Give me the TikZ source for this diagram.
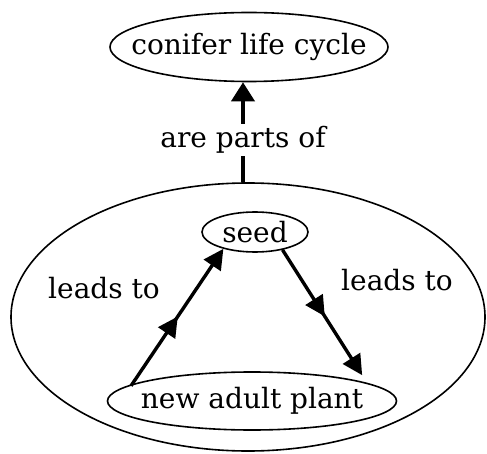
\documentclass[tikz,border=0pt]{standalone}
\usepackage{fontspec}
\setmainfont{DejaVu Serif}
\usetikzlibrary{shapes.geometric, arrows.meta, decorations.markings}

% ellipse size comes from minimum width/height only
\newcommand{\cword}[1]{\makebox[0pt]{#1}}

\begin{document}
\begin{tikzpicture}[x=1pt, y=1pt, line width=1.6pt,
        concept/.style = {draw, ellipse, inner sep=0pt, font=\fontsize{28}{30}\selectfont},
        linkword/.style = {font=\fontsize{28}{30}\selectfont, inner sep=2pt},
        leads/.style = {line width=3.4pt, -{Triangle[length=20pt, width=20pt]},
            postaction={decorate},
            decoration={markings, mark=at position 0.5 with {\arrow{Triangle[length=20pt, width=20pt]}}}} ]
        \useasboundingbox (0,0) rectangle (487,453);

        \node[concept, minimum width=278pt, minimum height=69pt] (conifer) at (249,406) {\cword{conifer life cycle}};
        \node[concept, minimum width=474pt, minimum height=268pt] (cycle) at (248,136) {};
        \node[concept, minimum width=106pt, minimum height=40pt] (seed) at (255,221) {\cword{seed}};
        \node[concept, minimum width=289pt, minimum height=58pt] (plant) at (252,52) {\cword{new adult plant}};

        \node[linkword] (parts) at (243,313) {are parts of};
        \node[linkword] (leadsL) at (104,165) {leads to};
        \node[linkword] (leadsR) at (397,173) {leads to};

        \draw[line width=3.8pt] (parts |- cycle.north) -- (parts);
        \draw[line width=3.8pt, -{Triangle[length=19pt, width=23pt]}] (parts) -- (parts |- conifer.south);
        \draw[leads, shorten <=-2pt] (plant.172) -- (seed.208);
        \draw[leads, shorten >=9pt] (seed.327) -- (plant.9.5);

    \end{tikzpicture}
\end{document}
